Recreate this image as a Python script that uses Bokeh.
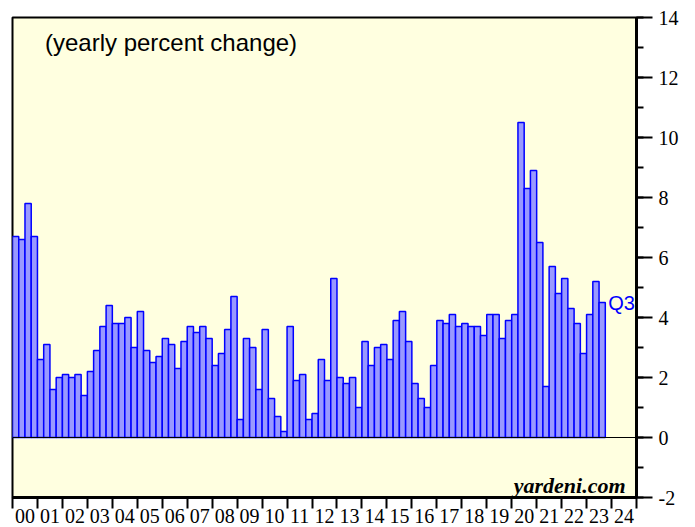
from bokeh.plotting import figure
from bokeh.models import (Range1d, SingleIntervalTicker, Span, Label,
                          ColumnDataSource, LinearAxis)
from bokeh.embed import file_html
from bokeh.resources import INLINE

# Quarterly yearly percent change, 2000Q1 .. 2023Q3
years = list(range(2000, 2025))
year_labels = ["00", "01", "02", "03", "04", "05", "06", "07", "08", "09", "10", "11",
               "12", "13", "14", "15", "16", "17", "18", "19", "20", "21", "22", "23", "24"]
values = [
    6.7, 6.6, 7.8, 6.7,   # 2000
    2.6, 3.1, 1.6, 2.0,   # 2001
    2.1, 2.0, 2.1, 1.4,   # 2002
    2.2, 2.9, 3.7, 4.4,   # 2003
    3.8, 3.8, 4.0, 3.0,   # 2004
    4.2, 2.9, 2.5, 2.7,   # 2005
    3.3, 3.1, 2.3, 3.2,   # 2006
    3.7, 3.5, 3.7, 3.3,   # 2007
    2.4, 2.8, 3.6, 4.7,   # 2008
    0.6, 3.3, 3.0, 1.6,   # 2009
    3.6, 1.3, 0.7, 0.2,   # 2010
    3.7, 1.9, 2.1, 0.6,   # 2011
    0.8, 2.6, 1.9, 5.3,   # 2012
    2.0, 1.8, 2.0, 1.0,   # 2013
    3.2, 2.4, 3.0, 3.1,   # 2014
    2.6, 3.9, 4.2, 3.2,   # 2015
    1.8, 1.3, 1.0, 2.4,   # 2016
    3.9, 3.8, 4.1, 3.7,   # 2017
    3.8, 3.7, 3.7, 3.4,   # 2018
    4.1, 4.1, 3.3, 3.9,   # 2019
    4.1, 10.5, 8.3, 8.9,  # 2020
    6.5, 1.7, 5.7, 4.8,   # 2021
    5.3, 4.3, 3.8, 2.8,   # 2022
    4.1, 5.2, 4.5,        # 2023
]
y_ticks = [-2, 0, 2, 4, 6, 8, 10, 12, 14]
last_label = "Q3"

xs = [years[0] + i * 0.25 + 0.125 for i in range(len(values))]
src = ColumnDataSource(dict(x=xs, v=values))

p = figure(frame_width=624, frame_height=480,
           x_range=Range1d(2000, 2025), y_range=Range1d(-2, 14),
           y_axis_location="right", output_backend="svg", toolbar_location=None,
           min_border_left=12, min_border_right=51, min_border_top=17, min_border_bottom=30)
# shifted range so year labels sit in the middle of each year
p.extra_x_ranges = {"lab": Range1d(1999.5, 2024.5)}

p.background_fill_color = "#FFFFE0"
p.border_fill_color = "white"
p.outline_line_color = "black"
p.outline_line_width = 2
p.xgrid.visible = False
p.ygrid.visible = False

p.vbar(x="x", top="v", bottom=0, width=0.25, source=src,
       fill_color="#9999FF", line_color="#0000FF", line_width=1.5)

p.add_layout(Span(location=0, dimension="width", line_color="black", line_width=1))

# bottom axis 1: year boundary ticks
xa = p.xaxis[0]
xa.ticker = SingleIntervalTicker(interval=1, num_minor_ticks=0)
xa.major_label_overrides = {y: "" for y in years + [2025]}
xa.major_label_text_font_size = "1px"
xa.major_label_standoff = 0
xa.major_tick_out = 11
xa.major_tick_in = 0
xa.major_tick_line_width = 2
xa.major_tick_line_color = "black"
xa.minor_tick_line_color = None
xa.axis_line_width = 3
xa.axis_line_color = "black"

# bottom axis 2: year labels
xb = LinearAxis(x_range_name="lab", ticker=SingleIntervalTicker(interval=1, num_minor_ticks=0))
xb.major_label_overrides = {y: l for y, l in zip(years, year_labels)}
xb.major_tick_line_color = None
xb.minor_tick_line_color = None
xb.major_tick_out = 0
xb.major_tick_in = 0
xb.axis_line_color = None
xb.major_label_standoff = 0
xb.major_label_text_font = "Liberation Serif"
xb.major_label_text_font_size = "20px"
xb.major_label_text_color = "black"
p.add_layout(xb, "below")

ya = p.yaxis[0]
ya.ticker = SingleIntervalTicker(interval=2, num_minor_ticks=2)
ya.major_label_overrides = {t: str(t) for t in y_ticks}
ya.major_tick_out = 16
ya.major_tick_in = 0
ya.minor_tick_out = 7
ya.minor_tick_in = 0
ya.major_tick_line_width = 2
ya.minor_tick_line_width = 2
ya.major_tick_line_color = "black"
ya.minor_tick_line_color = "black"
ya.axis_line_width = 3
ya.axis_line_color = "black"
ya.major_label_standoff = 6
ya.major_label_text_font = "Liberation Serif"
ya.major_label_text_font_size = "20px"
ya.major_label_text_color = "black"

p.add_layout(Label(x=2001.3, y=13.17, text="(yearly percent change)",
                   text_font="Liberation Sans", text_font_size="24px",
                   text_color="black", text_baseline="alphabetic"))
p.add_layout(Label(x=xs[-1] + 0.125, y=values[-1], x_offset=3, text=last_label,
                   text_font="Liberation Sans", text_font_size="20px",
                   text_color="#0000FF", text_baseline="middle"))
p.add_layout(Label(x=2024.56, y=-1.6, text="yardeni.com", text_align="right",
                   text_font="Liberation Serif", text_font_style="bold italic",
                   text_font_size="22px", text_color="black", text_baseline="alphabetic"))

open("out.html", "w").write(file_html(p, INLINE))
